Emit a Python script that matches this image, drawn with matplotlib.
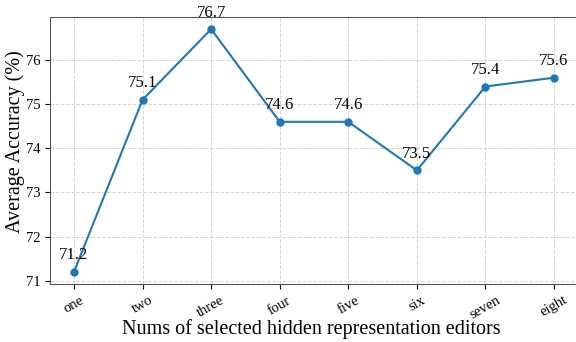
import numpy as np
import matplotlib.pyplot as plt

plt.rcParams['font.family'] = ['Liberation Serif', 'DejaVu Serif']

categorias = ['one', 'two', 'three', 'four', 'five', 'six', 'seven', 'eight']
precision = [71.2, 75.1, 76.7, 74.6, 74.6, 73.5, 75.4, 75.6]

fig = plt.figure(figsize=(5.76, 3.42), dpi=100)
ax = fig.add_axes([50/576, 1 - 284/342, 528/576, 267/342])

x = np.arange(len(categorias))
ax.plot(x, precision, marker='o', color='#1f77b4', markersize=5, linewidth=1.5)

for xi, yi in zip(x, precision):
    ax.annotate(f'{yi}', (xi, yi), textcoords='offset points', xytext=(0, 9),
                ha='center', fontsize=12)

ax.set_xticks(x)
ax.set_xticklabels(categorias, rotation=30, fontsize=10.5)
ax.set_yticks([71, 72, 73, 74, 75, 76])
ax.tick_params(axis='y', labelsize=10.5)
ax.grid(True, linestyle='--', color='#d4d4d4', linewidth=0.7)

ax.set_xlabel('Nums of selected hidden representation editors', fontsize=14.5, va='center')
ax.set_ylabel('Average Accuracy (%)', fontsize=14.5, va='center')
ax.xaxis.set_label_coords(0.5 - 3/528, (284 - 329) / 267)
ax.yaxis.set_label_coords((15 - 50) / 528, (284 - 142) / 267)

for s in ax.spines.values():
    s.set_color('#555555')

fig.savefig('out.png', dpi=100)
